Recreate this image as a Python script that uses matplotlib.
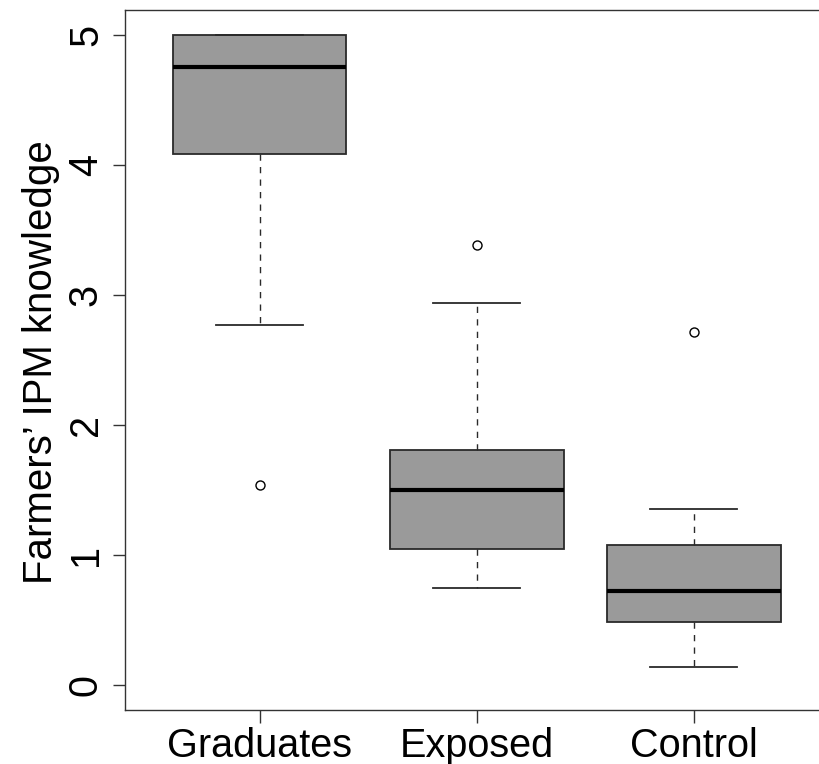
import numpy as np
import matplotlib.pyplot as plt

# Farmers' IPM knowledge by group
groups = ["Graduates", "Exposed", "Control"]
whislo = [2.77, 0.745, 0.138]
q1 = [4.08, 1.045, 0.485]
med = [4.75, 1.50, 0.722]
q3 = [5.00, 1.81, 1.077]
whishi = [5.00, 2.935, 1.354]
fliers = [[1.54], [3.385], [2.715]]

plt.rcParams['font.family'] = ['Liberation Sans', 'DejaVu Sans']

stats = []
for i, g in enumerate(groups):
    stats.append(dict(label=g, whislo=whislo[i], q1=q1[i], med=med[i],
                      q3=q3[i], whishi=whishi[i], fliers=fliers[i]))

fig = plt.figure(figsize=(8.2, 7.64), dpi=100)
ax = fig.add_axes([125 / 820, 1 - 710 / 764, 703.5 / 820, 700 / 764])

ax.bxp(stats, positions=[1, 2, 3], widths=0.8, patch_artist=True,
       boxprops=dict(facecolor="#9a9a9a", edgecolor="#2a2a2a", linewidth=1.3),
       medianprops=dict(color="black", linewidth=3.0, solid_capstyle="butt"),
       whiskerprops=dict(color="#2a2a2a", linewidth=1.0, linestyle=(0, (4.5, 4.5))),
       capprops=dict(color="#2a2a2a", linewidth=1.3),
       capwidths=0.4,
       flierprops=dict(marker="o", markerfacecolor="none", markeredgecolor="black",
                       markersize=6.5, markeredgewidth=1.0))

ax.set_xlim(0.38, 3.62)
ax.set_ylim(-0.19, 5.19)
ax.set_yticks([0, 1, 2, 3, 4, 5])
ax.set_xticks([1, 2, 3])
ax.set_xticklabels(groups)
for lab in ax.get_yticklabels():
    lab.set_rotation(90)
    lab.set_verticalalignment("center")

ax.tick_params(axis="both", direction="out", length=9, width=1.0, labelsize=28.5, color="#333333")
ax.tick_params(axis="y", pad=5.5)
ax.tick_params(axis="x", pad=3)
for s in ax.spines.values():
    s.set_linewidth(1.0)
    s.set_color("#333333")

ax.set_ylabel("Farmers\u2019 IPM knowledge", fontsize=29)
ax.yaxis.set_label_coords(-0.093, 0.497)

fig.savefig("out.png", dpi=100)
